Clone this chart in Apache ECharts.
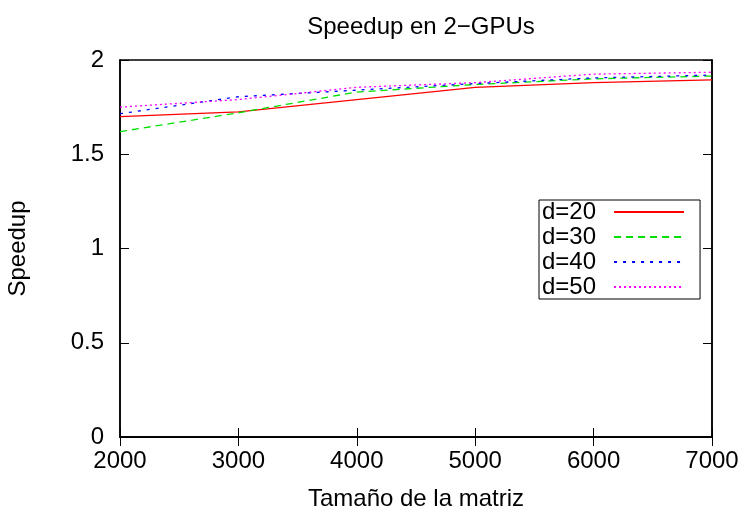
<!DOCTYPE html>
<html>
<head>
<meta charset="utf-8">
<script src="https://cdn.jsdelivr.net/npm/echarts@6/dist/echarts.min.js"></script>
<style>html,body{margin:0;padding:0;background:#fff;}#c{width:745px;height:511px;}</style>
</head>
<body>
<div id="c"></div>
<script>
const sizes = [2000, 3000, 4000, 5000, 6000, 7000];
const d20 = [1.70, 1.725, 1.79, 1.855, 1.88, 1.895];
const d30 = [1.62, 1.72, 1.83, 1.87, 1.90, 1.915];
const d40 = [1.715, 1.805, 1.84, 1.875, 1.905, 1.92];
const d50 = [1.75, 1.79, 1.855, 1.88, 1.925, 1.935];
const seriesNames = ['d=20', 'd=30', 'd=40', 'd=50'];
const colors = ['#ff0000', '#00e000', '#0000ff', '#ff00ff'];
const dashes = ['solid', [7, 5], [3, 6], [2, 3]];
const allData = [d20, d30, d40, d50];

const FONT = 'Liberation Sans';
const FS = 24;
const chart = echarts.init(document.getElementById('c'));
const tickStyle = { show: true, inside: true, length: 9, lineStyle: { color: '#000', width: 1 } };
const axisLine = { show: true, lineStyle: { color: '#000', width: 1.5 } };

chart.setOption({
  animation: false,
  backgroundColor: '#fff',
  title: {
    text: 'Speedup en 2\u2212GPUs', left: 416, top: 10, textAlign: 'center',
    textStyle: { fontFamily: FONT, fontSize: FS, fontWeight: 'normal', color: '#000' }
  },
  legend: {
    orient: 'vertical', left: 539, top: 200, align: 'right',
    itemWidth: 70, itemHeight: 14, itemGap: 1,
    borderColor: '#000', borderWidth: 1, borderRadius: 0, padding: [0, 15, 0, 3],
    itemStyle: { opacity: 0 },
    textStyle: { fontFamily: FONT, fontSize: FS, color: '#000', lineHeight: 24, padding: [0, 13, 0, 0] },
    data: seriesNames
  },
  grid: { left: 120, right: 33, top: 60, bottom: 74, show: true, borderColor: '#000', borderWidth: 1.5, outerBoundsMode: 'none', containLabel: false },
  xAxis: [{
    type: 'value', min: 2000, max: 7000, interval: 1000, position: 'bottom',
    name: 'Tamaño de la matriz', nameLocation: 'middle', nameGap: 50,
    nameTextStyle: { fontFamily: FONT, fontSize: FS, color: '#000' },
    axisLine, axisTick: tickStyle, splitLine: { show: false },
    axisLabel: { fontFamily: FONT, fontSize: FS, color: '#000', margin: 12, formatter: v => String(v) }
  }, {
    type: 'value', min: 2000, max: 7000, interval: 1000, position: 'top',
    axisLine, axisTick: tickStyle, splitLine: { show: false }, axisLabel: { show: false }
  }],
  yAxis: [{
    type: 'value', min: 0, max: 2, interval: 0.5, position: 'left',
    name: 'Speedup', nameLocation: 'middle', nameGap: 90, nameRotate: 90,
    nameTextStyle: { fontFamily: FONT, fontSize: FS, color: '#000' },
    axisLine, axisTick: tickStyle, splitLine: { show: false },
    axisLabel: { fontFamily: FONT, fontSize: FS, color: '#000', margin: 16 }
  }, {
    type: 'value', min: 0, max: 2, interval: 0.5, position: 'right',
    axisLine, axisTick: tickStyle, splitLine: { show: false }, axisLabel: { show: false }
  }],
  series: allData.map((d, i) => ({
    name: seriesNames[i], type: 'line', xAxisIndex: 0, yAxisIndex: 0,
    data: sizes.map((x, j) => [x, d[j]]),
    symbol: 'none', showSymbol: false,
    lineStyle: { color: colors[i], width: 1.3, type: dashes[i] },
    itemStyle: { color: colors[i] }
  }))
});
</script>
</body>
</html>
